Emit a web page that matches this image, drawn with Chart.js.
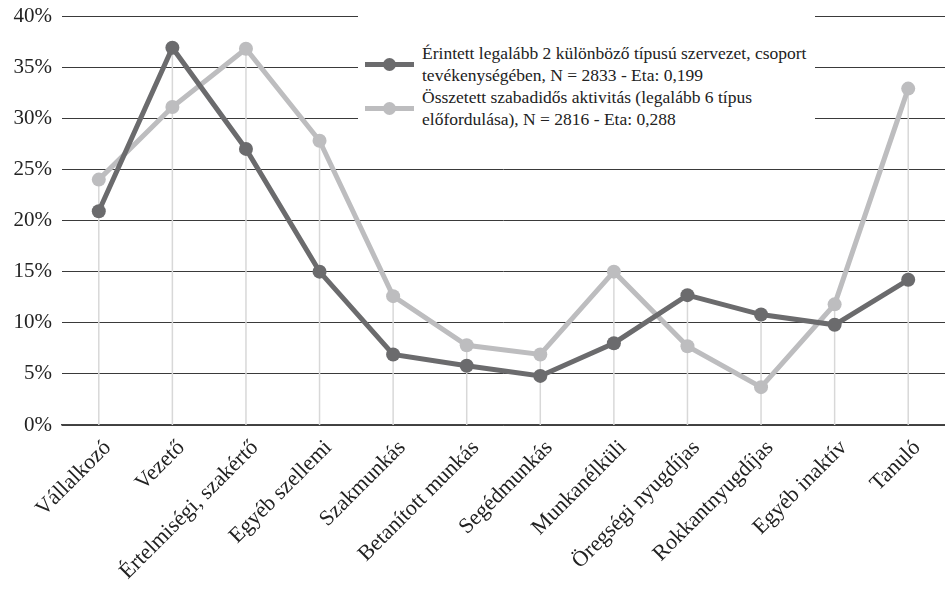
<!DOCTYPE html>
<html lang="hu">
<head>
<meta charset="utf-8">
<title>Foglalkozási csoportok</title>
<script src="https://cdn.jsdelivr.net/npm/chart.js@4.4.1/dist/chart.umd.min.js"></script>
<style>
  html, body { margin: 0; padding: 0; background: #fff; }
  #wrap { position: relative; width: 945px; height: 590px; }
  #legend {
    position: absolute; left: 358px; top: 5px; width: 457px; height: 89px;
    padding-top: 37px; background: #fff;
    font-family: "Liberation Serif", serif; font-size: 17.5px;
    line-height: 22px; color: #222;
  }
  .item { display: flex; align-items: center; }
  .item .mark { position: relative; width: 49px; height: 5px; margin: 0 8px 0 7px; flex: none; }
  .item .mark span { position: absolute; left: 18px; top: -4px; width: 13px; height: 13px; border-radius: 50%; }
  .item .txt { white-space: nowrap; }
</style>
</head>
<body>
<div id="wrap">
  <canvas id="chart" width="945" height="590"></canvas>
  <div id="legend"></div>
</div>
<script>
// categories (occupational groups)
const categories = ['Vállalkozó', 'Vezető', 'Értelmiségi, szakértő', 'Egyéb szellemi', 'Szakmunkás',
  'Betanított munkás', 'Segédmunkás', 'Munkanélküli', 'Öregségi nyugdíjas', 'Rokkantnyugdíjas',
  'Egyéb inaktív', 'Tanuló'];

// series values (%)
const orgMembers = [20.9, 36.9, 27.0, 15.0, 6.9, 5.8, 4.8, 8.0, 12.7, 10.8, 9.8, 14.2];
const leisureMix = [24.0, 31.1, 36.8, 27.8, 12.6, 7.8, 6.9, 15.0, 7.7, 3.7, 11.8, 32.9];

// legend labels, one entry per line
const seriesNames = [
  ['Érintett legalább 2 különböző típusú szervezet, csoport', 'tevékenységében, N = 2833 - Eta: 0,199'],
  ['Összetett szabadidős aktivitás (legalább 6 típus', 'előfordulása), N = 2816 - Eta: 0,288']
];

const darkGrey = '#6b6b6d';
const lightGrey = '#bdbdbf';
const serif = '"Liberation Serif", serif';

// light vertical lines from the higher point down to the axis
const dropLines = {
  id: 'dropLines',
  beforeDatasetsDraw(chart) {
    const ctx = chart.ctx;
    const x = chart.scales.x, y = chart.scales.y;
    ctx.save();
    ctx.strokeStyle = '#d8d8d8';
    ctx.lineWidth = 1.5;
    categories.forEach((c, i) => {
      const top = Math.max(orgMembers[i], leisureMix[i]);
      const px = x.getPixelForValue(i);
      ctx.beginPath();
      ctx.moveTo(px, y.getPixelForValue(top));
      ctx.lineTo(px, y.getPixelForValue(0));
      ctx.stroke();
    });
    ctx.restore();
  }
};

const chart = new Chart(document.getElementById('chart').getContext('2d'), {
  type: 'line',
  data: {
    labels: categories,
    datasets: [{
      label: seriesNames[0],
      data: orgMembers,
      borderColor: darkGrey,
      backgroundColor: darkGrey,
      borderWidth: 5,
      pointRadius: 7,
      pointBorderWidth: 0,
      tension: 0
    }, {
      label: seriesNames[1],
      data: leisureMix,
      borderColor: lightGrey,
      backgroundColor: lightGrey,
      borderWidth: 5,
      pointRadius: 7,
      pointBorderWidth: 0,
      tension: 0
    }]
  },
  options: {
    responsive: false,
    animation: false,
    layout: { autoPadding: false, padding: 0 },
    plugins: {
      legend: { display: false },
      tooltip: { enabled: false }
    },
    scales: {
      x: {
        offset: true,
        grid: { display: false },
        border: { color: '#444', width: 1.5 },
        ticks: {
          minRotation: 45, maxRotation: 45, padding: 2, labelOffset: 9,
          color: '#222', font: { family: serif, size: 22 }
        },
        afterFit(scale) {
          scale.height = 165;
          scale.paddingLeft = 0;
          scale.paddingRight = 0;
        }
      },
      y: {
        min: 0, max: 40,
        grid: { color: '#3a3a3a', lineWidth: 1, drawTicks: false },
        border: { display: false },
        ticks: {
          stepSize: 5, padding: 10, color: '#222',
          font: { family: serif, size: 21 },
          callback: v => v + '%'
        },
        afterFit(scale) {
          scale.width = 62;
          scale.paddingTop = 16;
          scale.paddingBottom = 0;
        }
      }
    }
  },
  plugins: [dropLines]
});

// HTML legend built from the datasets
const legendBox = document.getElementById('legend');
chart.data.datasets.forEach(ds => {
  const row = document.createElement('div');
  row.className = 'item';
  row.innerHTML = '<div class="mark" style="background:' + ds.borderColor + '"><span style="background:' +
    ds.borderColor + '"></span></div><div class="txt"></div>';
  const txt = row.querySelector('.txt');
  ds.label.forEach(line => {
    const d = document.createElement('div');
    d.textContent = line;
    txt.appendChild(d);
  });
  legendBox.appendChild(row);
});
</script>
</body>
</html>
